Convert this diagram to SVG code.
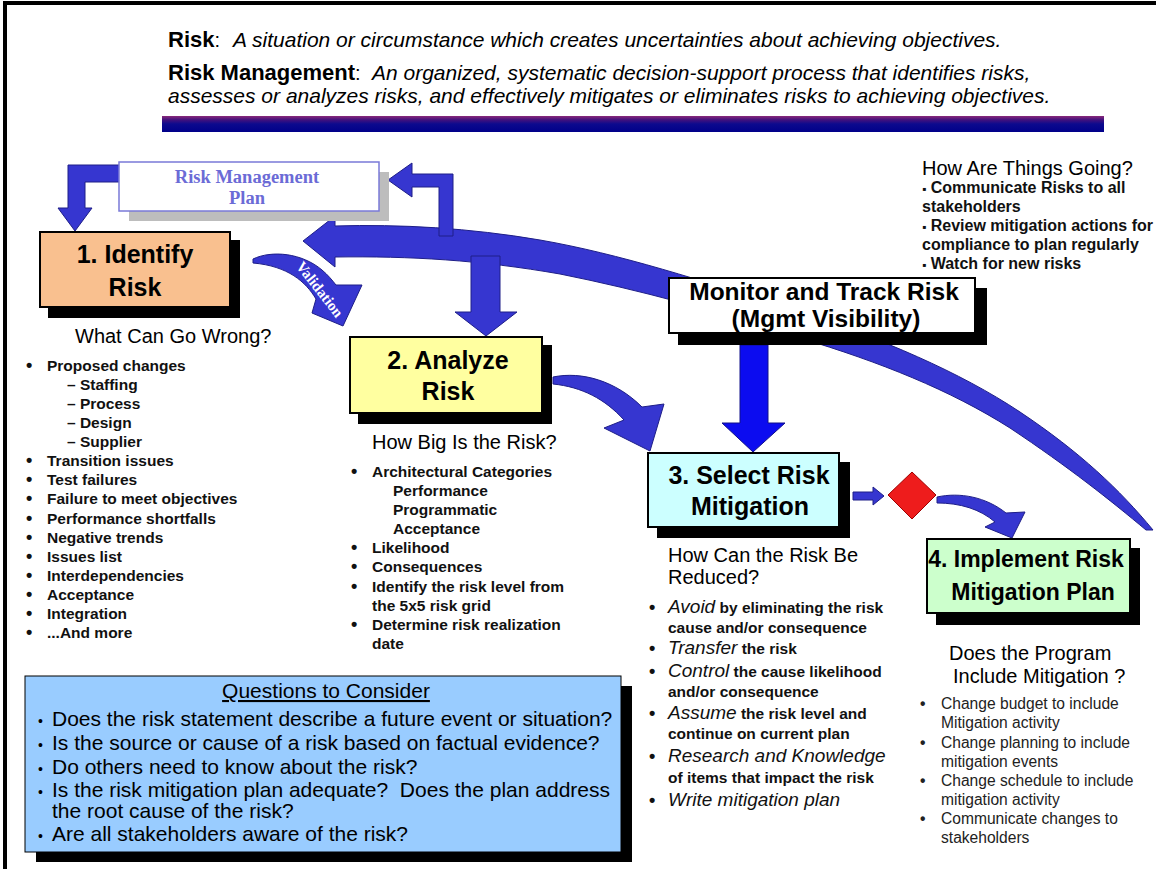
<svg xmlns="http://www.w3.org/2000/svg" width="1156" height="869" viewBox="0 0 1156 869">
<defs>
<linearGradient id="bar" x1="0" y1="0" x2="0" y2="1">
<stop offset="0" stop-color="#8a2a7a"/><stop offset="0.25" stop-color="#40107e"/><stop offset="0.5" stop-color="#0c0a8e"/><stop offset="1" stop-color="#00008a"/>
</linearGradient>
<style>
.t{font-family:"Liberation Sans",Arial,sans-serif;font-weight:bold;font-size:25px;text-anchor:middle;fill:#000}
.h{font-family:"Liberation Sans",Arial,sans-serif;font-size:20px;fill:#000}
.b{font-family:"Liberation Sans",Arial,sans-serif;font-weight:bold;font-size:15.5px;fill:#111}
.tr{font-family:"Liberation Sans",Arial,sans-serif;font-weight:bold;font-size:16px;fill:#111}
.i{font-style:italic;font-weight:normal;font-size:19px}
.d{font-size:18px}
.r{font-family:"Liberation Sans",Arial,sans-serif;font-size:15.6px;fill:#222}
.q{font-family:"Liberation Sans",Arial,sans-serif;font-size:21px;fill:#000}
.arrow{fill:#3636d0;stroke:#1e1e88;stroke-width:1}
.box{stroke:#000;stroke-width:2}
.shadow{fill:#000}
</style>
</defs>
<rect width="1156" height="869" fill="#fff"/>
<path d="M5,869 V3 H1156" fill="none" stroke="#000" stroke-width="4"/>

<g id="header">
<text x="168" y="47" font-family="Liberation Sans, Arial, sans-serif" fill="#000"><tspan font-weight="bold" font-size="22">Risk</tspan><tspan font-size="20">:</tspan><tspan x="233" font-style="italic" font-size="21">A situation or circumstance which creates uncertainties about achieving objectives.</tspan></text>
<text x="168" y="80" font-family="Liberation Sans, Arial, sans-serif" fill="#000"><tspan font-weight="bold" font-size="22">Risk Management</tspan><tspan font-size="20">:</tspan><tspan x="372" font-style="italic" font-size="21">An organized, systematic decision-support process that identifies risks,</tspan></text>
<text x="168" y="103" font-family="Liberation Sans, Arial, sans-serif" font-style="italic" font-size="21" fill="#000">assesses or analyzes risks, and effectively mitigates or eliminates risks to achieving objectives.</text>
<rect x="162" y="116" width="942" height="16" fill="url(#bar)"/>
</g>

<g id="connectors">
<path class="arrow" d="M335,226 C400,224 470,228 540,240 C620,254 700,280 800,312 C880,338 960,372 1020,412 C1080,452 1120,490 1153,530 L1146,530 C1110,500 1070,468 1010,428 C950,390 880,362 800,338 C720,312 640,290 560,274 C480,260 410,256 335,257 L335,267 L303,241 L335,216 Z"/>
<path class="arrow" d="M453,236 L453,174 L412,174 L412,163 L388,180 L412,197 L412,187 L439,187 L439,236 Z"/>
<path class="arrow" d="M471,256 L500,256 L500,312 L517,312 L486,336 L455,312 L471,312 Z"/>
<path class="arrow" d="M122,165 L68,165 L68,208 L58,208 L75,231 L92,208 L85,208 L85,182 L122,182 Z"/>
<path class="arrow" d="M253,259 C272,250 302,253 322,270 C328,275 332,280 336,285 L362,285 L343,326 L312,313 L316,299 C306,282 288,266 253,263 Z"/>
<text x="0" y="0" transform="translate(319,290) rotate(52)" text-anchor="middle" font-family="Liberation Serif, serif" font-weight="bold" font-size="15" fill="#fff" dy="4">Validation</text>
<path class="arrow" d="M553,377 C582,371 616,381 642,407 L664,404 L650,451 L604,428 L624,420 C605,399 582,387 553,384 Z"/>
<path d="M740,345 L768,345 L768,423 L785,423 L753,452 L722,423 L740,423 Z" fill="#0c0cf0" stroke="#10108a" stroke-width="1"/>
<path class="arrow" d="M853,492 L873,492 L873,487 L884,496 L873,505 L873,500 L853,500 Z"/>
<path class="arrow" d="M937,497 C960,492 986,497 1006,513 L1025,512 L1012,538 L985,527 L995,522 C980,509 960,503 937,503 Z"/>
</g>

<g id="rmp">
<rect x="129" y="172" width="260" height="49" fill="#bdbdbd"/>
<rect x="119" y="162" width="260" height="49" fill="#fff" stroke="#7a7ad8" stroke-width="1.5"/>
<text text-anchor="middle" font-family="Liberation Serif, serif" font-weight="bold" font-size="18.5" fill="#6b6bd6"><tspan x="247" y="183">Risk Management</tspan><tspan x="247" y="204">Plan</tspan></text>
</g>

<g id="identify">
<rect class="shadow" x="48" y="240" width="192" height="78"/>
<rect class="box" x="40" y="232" width="190" height="75" fill="#f9c08f"/>
<text class="t"><tspan x="135" y="263">1. Identify</tspan><tspan x="135" y="296">Risk</tspan></text>
</g>

<g id="analyze">
<rect class="shadow" x="358" y="345" width="194" height="79"/>
<rect class="box" x="350" y="337" width="192" height="76" fill="#ffffa0"/>
<text class="t"><tspan x="448" y="369">2. Analyze</tspan><tspan x="448" y="400">Risk</tspan></text>
</g>

<g id="monitor">
<rect class="shadow" x="678" y="288" width="309" height="57"/>
<rect class="box" x="669" y="278" width="306" height="55" fill="#fff"/>
<text class="t" style="font-size:24.5px"><tspan x="824" y="300">Monitor and Track Risk</tspan><tspan x="826" y="327">(Mgmt Visibility)</tspan></text>
</g>

<g id="select">
<rect class="shadow" x="657" y="462" width="193" height="76"/>
<rect class="box" x="648" y="453" width="191" height="74" fill="#ccffff"/>
<text class="t"><tspan x="749" y="484">3. Select Risk</tspan><tspan x="750" y="515">Mitigation</tspan></text>
</g>

<g id="decision">
<polygon points="912,472 936,495 912,519 888,495" fill="#ee1c1c" stroke="#a00000" stroke-width="1"/>
</g>

<g id="implement">
<rect class="shadow" x="936" y="548" width="204" height="77"/>
<rect class="box" x="927" y="539" width="203" height="74" fill="#ccffcc"/>
<text class="t" style="font-size:23px"><tspan x="1026" y="567">4. Implement Risk</tspan><tspan x="1033" y="600">Mitigation Plan</tspan></text>
</g>

<g id="how-going">
<text class="h" x="922" y="175">How Are Things Going?</text>
<text class="tr" x="922" y="193"><tspan font-size="12">▪</tspan> Communicate Risks to all</text>
<text class="tr" x="922" y="212">stakeholders</text>
<text class="tr" x="922" y="231"><tspan font-size="12">▪</tspan> Review mitigation actions for</text>
<text class="tr" x="922" y="250">compliance to plan regularly</text>
<text class="tr" x="922" y="269"><tspan font-size="12">▪</tspan> Watch for new risks</text>
</g>

<g id="identify-notes">
<text class="h" x="75" y="343">What Can Go Wrong?</text>
<text class="b" y="371"><tspan x="26" class="d">•</tspan><tspan x="47">Proposed changes</tspan></text>
<text class="b" x="67" y="390">– Staffing</text>
<text class="b" x="67" y="409">– Process</text>
<text class="b" x="67" y="428">– Design</text>
<text class="b" x="67" y="447">– Supplier</text>
<text class="b" y="466"><tspan x="26" class="d">•</tspan><tspan x="47">Transition issues</tspan></text>
<text class="b" y="485"><tspan x="26" class="d">•</tspan><tspan x="47">Test failures</tspan></text>
<text class="b" y="504"><tspan x="26" class="d">•</tspan><tspan x="47">Failure to meet objectives</tspan></text>
<text class="b" y="524"><tspan x="26" class="d">•</tspan><tspan x="47">Performance shortfalls</tspan></text>
<text class="b" y="543"><tspan x="26" class="d">•</tspan><tspan x="47">Negative trends</tspan></text>
<text class="b" y="562"><tspan x="26" class="d">•</tspan><tspan x="47">Issues list</tspan></text>
<text class="b" y="581"><tspan x="26" class="d">•</tspan><tspan x="47">Interdependencies</tspan></text>
<text class="b" y="600"><tspan x="26" class="d">•</tspan><tspan x="47">Acceptance</tspan></text>
<text class="b" y="619"><tspan x="26" class="d">•</tspan><tspan x="47">Integration</tspan></text>
<text class="b" y="638"><tspan x="26" class="d">•</tspan><tspan x="47">...And more</tspan></text>
</g>

<g id="analyze-notes">
<text class="h" x="372" y="449">How Big Is the Risk?</text>
<text class="b" y="477"><tspan x="351" class="d">•</tspan><tspan x="372">Architectural Categories</tspan></text>
<text class="b" x="393" y="496">Performance</text>
<text class="b" x="393" y="515">Programmatic</text>
<text class="b" x="393" y="534">Acceptance</text>
<text class="b" y="553"><tspan x="351" class="d">•</tspan><tspan x="372">Likelihood</tspan></text>
<text class="b" y="572"><tspan x="351" class="d">•</tspan><tspan x="372">Consequences</tspan></text>
<text class="b" y="592"><tspan x="351" class="d">•</tspan><tspan x="372">Identify the risk level from</tspan></text>
<text class="b" x="372" y="611">the 5x5 risk grid</text>
<text class="b" y="630"><tspan x="351" class="d">•</tspan><tspan x="372">Determine risk realization</tspan></text>
<text class="b" x="372" y="649">date</text>
</g>

<g id="select-notes">
<text class="h"><tspan x="668" y="562">How Can the Risk Be</tspan><tspan x="668" y="584">Reduced?</tspan></text>
<text class="b" y="613"><tspan x="649" class="d">•</tspan><tspan x="668" class="i">Avoid</tspan> by eliminating the risk</text>
<text class="b" x="668" y="633">cause and/or consequence</text>
<text class="b" y="654"><tspan x="649" class="d">•</tspan><tspan x="668" class="i">Transfer</tspan> the risk</text>
<text class="b" y="677"><tspan x="649" class="d">•</tspan><tspan x="668" class="i">Control</tspan> the cause likelihood</text>
<text class="b" x="668" y="697">and/or consequence</text>
<text class="b" y="719"><tspan x="649" class="d">•</tspan><tspan x="668" class="i">Assume</tspan> the risk level and</text>
<text class="b" x="668" y="739">continue on current plan</text>
<text class="b" y="762"><tspan x="649" class="d">•</tspan><tspan x="668" class="i">Research and Knowledge</tspan></text>
<text class="b" x="668" y="783">of items that impact the risk</text>
<text class="b" y="806"><tspan x="649" class="d">•</tspan><tspan x="668" class="i">Write mitigation plan</tspan></text>
</g>

<g id="implement-notes">
<text class="h"><tspan x="949" y="660">Does the Program</tspan><tspan x="953" y="683">Include Mitigation ?</tspan></text>
<text class="r" y="709"><tspan x="920" font-weight="bold">•</tspan><tspan x="941">Change budget to include</tspan></text>
<text class="r" x="941" y="728">Mitigation activity</text>
<text class="r" y="748"><tspan x="920" font-weight="bold">•</tspan><tspan x="941">Change planning to include</tspan></text>
<text class="r" x="941" y="767">mitigation events</text>
<text class="r" y="786"><tspan x="920" font-weight="bold">•</tspan><tspan x="941">Change schedule to include</tspan></text>
<text class="r" x="941" y="805">mitigation activity</text>
<text class="r" y="824"><tspan x="920" font-weight="bold">•</tspan><tspan x="941">Communicate changes to</tspan></text>
<text class="r" x="941" y="843">stakeholders</text>
</g>

<g id="questions">
<rect class="shadow" x="36" y="686" width="596" height="176"/>
<rect x="25" y="676" width="596" height="176" fill="#99ccff" stroke="#000" stroke-width="1"/>
<text class="q" x="326" y="698" text-anchor="middle" text-decoration="underline">Questions to Consider</text>
<text class="q" y="726"><tspan x="38" font-size="14">•</tspan><tspan x="52">Does the risk statement describe a future event or situation?</tspan></text>
<text class="q" y="750"><tspan x="38" font-size="14">•</tspan><tspan x="52">Is the source or cause of a risk based on factual evidence?</tspan></text>
<text class="q" y="774"><tspan x="38" font-size="14">•</tspan><tspan x="52">Do others need to know about the risk?</tspan></text>
<text class="q" y="797"><tspan x="38" font-size="14">•</tspan><tspan x="52">Is the risk mitigation plan adequate?&#160; Does the plan address</tspan></text>
<text class="q" x="52" y="818">the root cause of the risk?</text>
<text class="q" y="841"><tspan x="38" font-size="14">•</tspan><tspan x="52">Are all stakeholders aware of the risk?</tspan></text>
</g>
</svg>
